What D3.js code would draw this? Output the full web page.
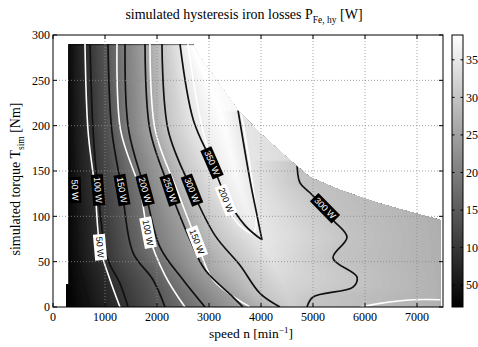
<!DOCTYPE html>
<html>
<head>
<meta charset="utf-8">
<script src="https://cdn.jsdelivr.net/npm/d3@7"></script>
<style>
  html, body { margin: 0; padding: 0; background: #fff; }
  svg { display: block; }
  .serif { font-family: "Liberation Serif", "Times New Roman", serif; }
  .sans { font-family: "Liberation Sans", Arial, sans-serif; }
</style>
</head>
<body>
<svg id="chart" width="478" height="347"></svg>
<script>
// ---------------- data: speed n [min^-1], torque T [Nm], losses [W] ----------------
const speedTicks  = [0, 1000, 2000, 3000, 4000, 5000, 6000, 7000];
const torqueTicks = [0, 50, 100, 150, 200, 250, 300];
const colorTicks  = [50, 100, 150, 200, 250, 300, 350];
const colorRange  = [21, 383];

// operating region (torque limit over speed)
const regionOutline = [
  [300, 290], [2692, 290], [2827, 276], [3558, 217], [3981, 192], [4500, 165],
  [4942, 143], [5519, 129], [6231, 115], [6923, 104], [7450, 96], [7450, 0],
  [250, 0], [250, 25], [300, 25]
];

// simulated loss contours, points [speed, torque]
const sim50   = [[365, 290], [385, 195], [423, 129], [481, 55], [615, 22], [712, 0]];
const sim100  = [[712, 290], [769, 195], [865, 129], [1038, 55], [1288, 26], [1442, 0]];
const sim150  = [[1058, 290], [1130, 195], [1327, 129], [1538, 60], [1923, 30], [2154, 0]];
const sim200  = [[1385, 290], [1455, 195], [1769, 129], [2058, 66], [2500, 30], [2923, 0]];
const sim250  = [[1769, 290], [1865, 195], [2250, 129], [2635, 74], [2923, 41], [3461, 11], [3654, 0]];
const sim300a = [[2096, 290], [2215, 195], [2673, 129], [3115, 79], [3596, 46], [3981, 15], [4365, 0]];
const sim350a = [[2442, 290], [2700, 206], [3058, 159], [3308, 124], [3692, 90], [4019, 74]];
const sim350b = [[3558, 217], [3788, 140], [3923, 101], [4019, 74]];
const sim300b = [[4692, 160], [4750, 137], [4942, 126], [5231, 109], [5385, 96], [5654, 77],
                 [5385, 54], [5846, 33], [5769, 22], [5000, 11], [4885, 0]];
const simLevels   = [50, 100, 150, 200, 250, 300, 350, 350, 300];
const simLabelAt  = [129, 129, 129, 129, 129, 129, 159, null, 109];   // torque of each label

// ridge of maximum losses [speed, torque, loss] and losses at the speed limit
const ridge = [[2650, 290, 382], [3250, 210, 382], [3500, 150, 375], [3780, 100, 362],
               [4019, 74, 350], [4300, 40, 335], [4600, 0, 312]];
const lowEdgeLoss = 22;
const rimTorque = [0, 100, 300];
const rimLoss   = [272, 268, 255];

// second set of contours (white), points [speed, torque]
const ref50  = [[615, 290], [673, 195], [808, 129], [904, 66], [1096, 30], [1288, 0]];
const ref100 = [[1231, 290], [1300, 195], [1673, 129], [1827, 82], [2154, 35], [2538, 0]];
const ref150 = [[1865, 290], [1965, 195], [2385, 129], [2769, 72], [3077, 30], [3788, 0]];
const ref200 = [[2596, 290], [2880, 195], [3250, 129], [3461, 99], [3692, 85], [3846, 81],
                [3904, 90], [3827, 140], [3615, 215]];
const ref200low = [[5904, 0], [6288, 4], [6923, 8], [7500, 8]];
const refLevels  = [50, 100, 150, 200, 200];
const refLabelAt = [66, 82, 72, 118, null];

// ---------------- layout ----------------
const svg = d3.select("#chart");
const X0 = 53, X1 = 443, Y0 = 35, Y1 = 307;
const x = d3.scaleLinear().domain([0, 7500]).range([X0, X1]);
const y = d3.scaleLinear().domain([0, 300]).range([Y1, Y0]);
const gray = d3.scaleLinear().domain(colorRange).range(["#000000", "#ffffff"]).clamp(true);

const simLines = [sim50, sim100, sim150, sim200, sim250, sim300a, sim350a, sim350b, sim300b];
const refLines = [ref50, ref100, ref150, ref200, ref200low];

// speed where a polyline passes a given torque (null if it does not)
function crossing(line, T) {
  for (let k = 0; k < line.length - 1; k++) {
    const [n1, t1] = line[k], [n2, t2] = line[k + 1];
    if (t1 === t2) continue;
    if ((T - t1) * (T - t2) <= 0) {
      const f = (T - t1) / (t2 - t1);
      return { n: n1 + f * (n2 - n1), f, k };
    }
  }
  return null;
}

const rim = d3.scaleLinear().domain(rimTorque).range(rimLoss).clamp(true);

// loss profile along speed for one torque, built from the contour crossings
function rowProfile(T) {
  const knots = [[250, lowEdgeLoss]];
  simLines.forEach((line, i) => {
    const c = crossing(line, T);
    if (c) knots.push([c.n, simLevels[i]]);
  });
  const r = crossing(ridge, T);
  if (r) knots.push([r.n, ridge[r.k][2] + r.f * (ridge[r.k + 1][2] - ridge[r.k][2])]);
  knots.push([7500, rim(T)]);
  knots.sort((a, b) => a[0] - b[0]);
  return d3.scaleLinear().domain(knots.map(d => d[0])).range(knots.map(d => d[1])).clamp(true);
}

// ---------------- clip for the operating region ----------------
const defs = svg.append("defs");
defs.append("clipPath").attr("id", "region")
  .append("path")
  .attr("d", d3.line().x(d => x(d[0])).y(d => y(d[1]))(regionOutline) + "Z");

// ---------------- filled loss map ----------------
const step = 2;
const gw = Math.ceil((X1 - X0) / step), gh = Math.ceil((Y1 - Y0) / step);
const values = new Float64Array(gw * gh);
for (let j = 0; j < gh; j++) {
  const T = y.invert(Y0 + (j + 0.5) * step);
  const prof = rowProfile(T);
  for (let i = 0; i < gw; i++) {
    values[j * gw + i] = prof(x.invert(X0 + (i + 0.5) * step));
  }
}
const bandStep = 3;
const thresholds = d3.range(18, 390, bandStep);
const bands = d3.contours().size([gw, gh]).thresholds(thresholds)(values);
const gridPath = d3.geoPath(d3.geoIdentity().scale(step).translate([X0, Y0]));

svg.append("g").attr("clip-path", "url(#region)")
  .selectAll("path").data(bands).join("path")
  .attr("d", gridPath)
  .attr("fill", d => gray(d.value + bandStep / 2))
  .attr("stroke", "none");

// ---------------- contour lines ----------------
const linePath = d3.line().x(d => x(d[0])).y(d => y(d[1])).curve(d3.curveCatmullRom.alpha(0.5));
const lineLayer = svg.append("g").attr("clip-path", "url(#region)");
lineLayer.selectAll("path.ref").data(refLines).join("path")
  .attr("class", "ref")
  .attr("d", linePath)
  .attr("fill", "none").attr("stroke", "#ffffff").attr("stroke-width", 1.6)
  .attr("stroke-linejoin", "round");
lineLayer.selectAll("path.sim").data(simLines).join("path")
  .attr("class", "sim")
  .attr("d", linePath)
  .attr("fill", "none").attr("stroke", "#111111").attr("stroke-width", 1.7)
  .attr("stroke-linejoin", "round");

// ---------------- grid (dotted, above the map) ----------------
const grid = svg.append("g").attr("stroke", "#8a8a8a").attr("stroke-width", 0.8)
  .attr("stroke-dasharray", "1,2");
grid.selectAll("line.v").data(speedTicks.filter(d => d > 0)).join("line")
  .attr("x1", d => x(d)).attr("x2", d => x(d)).attr("y1", Y0).attr("y2", Y1);
grid.selectAll("line.h").data(torqueTicks.filter(d => d > 0 && d < 300)).join("line")
  .attr("x1", X0).attr("x2", X1).attr("y1", d => y(d)).attr("y2", d => y(d));

// ---------------- contour labels ----------------
function placeLabels(lines, levels, labelAt, boxFill, textFill) {
  const g = svg.append("g").attr("class", "sans");
  lines.forEach((line, i) => {
    const T = labelAt[i];
    if (T == null) return;
    const c = crossing(line, T);
    if (!c) return;
    const a = line[c.k], b = line[c.k + 1];
    let ang = Math.atan2(y(b[1]) - y(a[1]), x(b[0]) - x(a[0])) * 180 / Math.PI;
    if (ang > 90) ang -= 180;
    if (ang <= -90) ang += 180;
    const lg = g.append("g")
      .attr("transform", `translate(${x(c.n)},${y(T)}) rotate(${ang})`);
    const txt = lg.append("text")
      .attr("text-anchor", "middle").attr("dy", "0.35em")
      .attr("font-size", 9).attr("fill", textFill)
      .text(`${levels[i]} W`);
    const w = txt.node().getComputedTextLength() + 5;
    lg.insert("rect", "text")
      .attr("x", -w / 2).attr("y", -6).attr("width", w).attr("height", 12)
      .attr("fill", boxFill);
  });
}
placeLabels(refLines, refLevels, refLabelAt, "#ffffff", "#000000");
placeLabels(simLines, simLevels, simLabelAt, "#000000", "#ffffff");

// ---------------- axes ----------------
const axes = svg.append("g").attr("class", "serif");
axes.append("rect").attr("x", X0).attr("y", Y0).attr("width", X1 - X0).attr("height", Y1 - Y0)
  .attr("fill", "none").attr("stroke", "#000").attr("stroke-width", 1);
const tickLen = 4;
axes.selectAll("line.xt").data(speedTicks).join("line")
  .attr("x1", d => x(d)).attr("x2", d => x(d)).attr("y1", Y1).attr("y2", Y1 - tickLen)
  .attr("stroke", "#000");
axes.selectAll("line.xt2").data(speedTicks).join("line")
  .attr("x1", d => x(d)).attr("x2", d => x(d)).attr("y1", Y0).attr("y2", Y0 + tickLen)
  .attr("stroke", "#000");
axes.selectAll("line.yt").data(torqueTicks).join("line")
  .attr("x1", X0).attr("x2", X0 + tickLen).attr("y1", d => y(d)).attr("y2", d => y(d))
  .attr("stroke", "#000");
axes.selectAll("line.yt2").data(torqueTicks).join("line")
  .attr("x1", X1).attr("x2", X1 - tickLen).attr("y1", d => y(d)).attr("y2", d => y(d))
  .attr("stroke", "#000");
axes.selectAll("text.xl").data(speedTicks).join("text")
  .attr("x", d => x(d)).attr("y", Y1 + 14).attr("text-anchor", "middle")
  .attr("font-size", 12).text(d => d);
axes.selectAll("text.yl").data(torqueTicks).join("text")
  .attr("x", X0 - 3).attr("y", d => y(d)).attr("dy", "0.35em").attr("text-anchor", "end")
  .attr("font-size", 12).text(d => d);

// axis titles
const xt = axes.append("text").attr("x", 251).attr("y", 338)
  .attr("text-anchor", "middle").attr("font-size", 13.5);
xt.append("tspan").text("speed n [min");
xt.append("tspan").attr("dy", -5).attr("font-size", 9).text("\u22121");
xt.append("tspan").attr("dy", 5).text("]");

const yt = axes.append("text")
  .attr("transform", `translate(20,${(Y0 + Y1) / 2 + 8}) rotate(-90)`)
  .attr("text-anchor", "middle").attr("font-size", 14);
yt.append("tspan").text("simulated torque T");
yt.append("tspan").attr("dy", 3.5).attr("font-size", 9.5).text("sim");
yt.append("tspan").attr("dy", -3.5).text(" [Nm]");

const title = axes.append("text").attr("x", 244).attr("y", 19)
  .attr("text-anchor", "middle").attr("font-size", 14);
title.append("tspan").text("simulated hysteresis iron losses P");
title.append("tspan").attr("dy", 3.5).attr("font-size", 9.5).text("Fe, hy");
title.append("tspan").attr("dy", -3.5).text(" [W]");

// ---------------- colorbar ----------------
const CB0 = 452, CB1 = 463;
const cy = d3.scaleLinear().domain(colorRange).range([Y1, Y0]);
const grad = defs.append("linearGradient").attr("id", "cbGrad")
  .attr("x1", 0).attr("y1", 1).attr("x2", 0).attr("y2", 0);
grad.append("stop").attr("offset", 0).attr("stop-color", gray(colorRange[0]));
grad.append("stop").attr("offset", 1).attr("stop-color", gray(colorRange[1]));
const cb = svg.append("g").attr("class", "serif");
cb.append("rect").attr("x", CB0).attr("y", Y0).attr("width", CB1 - CB0).attr("height", Y1 - Y0)
  .attr("fill", "url(#cbGrad)").attr("stroke", "#000").attr("stroke-width", 1);
cb.selectAll("line.cl").data(colorTicks).join("line")
  .attr("x1", CB0).attr("x2", CB0 + 2.5).attr("y1", d => cy(d)).attr("y2", d => cy(d))
  .attr("stroke", "#000");
cb.selectAll("line.cr").data(colorTicks).join("line")
  .attr("x1", CB1).attr("x2", CB1 - 2.5).attr("y1", d => cy(d)).attr("y2", d => cy(d))
  .attr("stroke", "#000");
cb.selectAll("text").data(colorTicks).join("text")
  .attr("x", CB1 + 3).attr("y", d => cy(d)).attr("dy", "0.35em")
  .attr("font-size", 12).text(d => d);
</script>
</body>
</html>
